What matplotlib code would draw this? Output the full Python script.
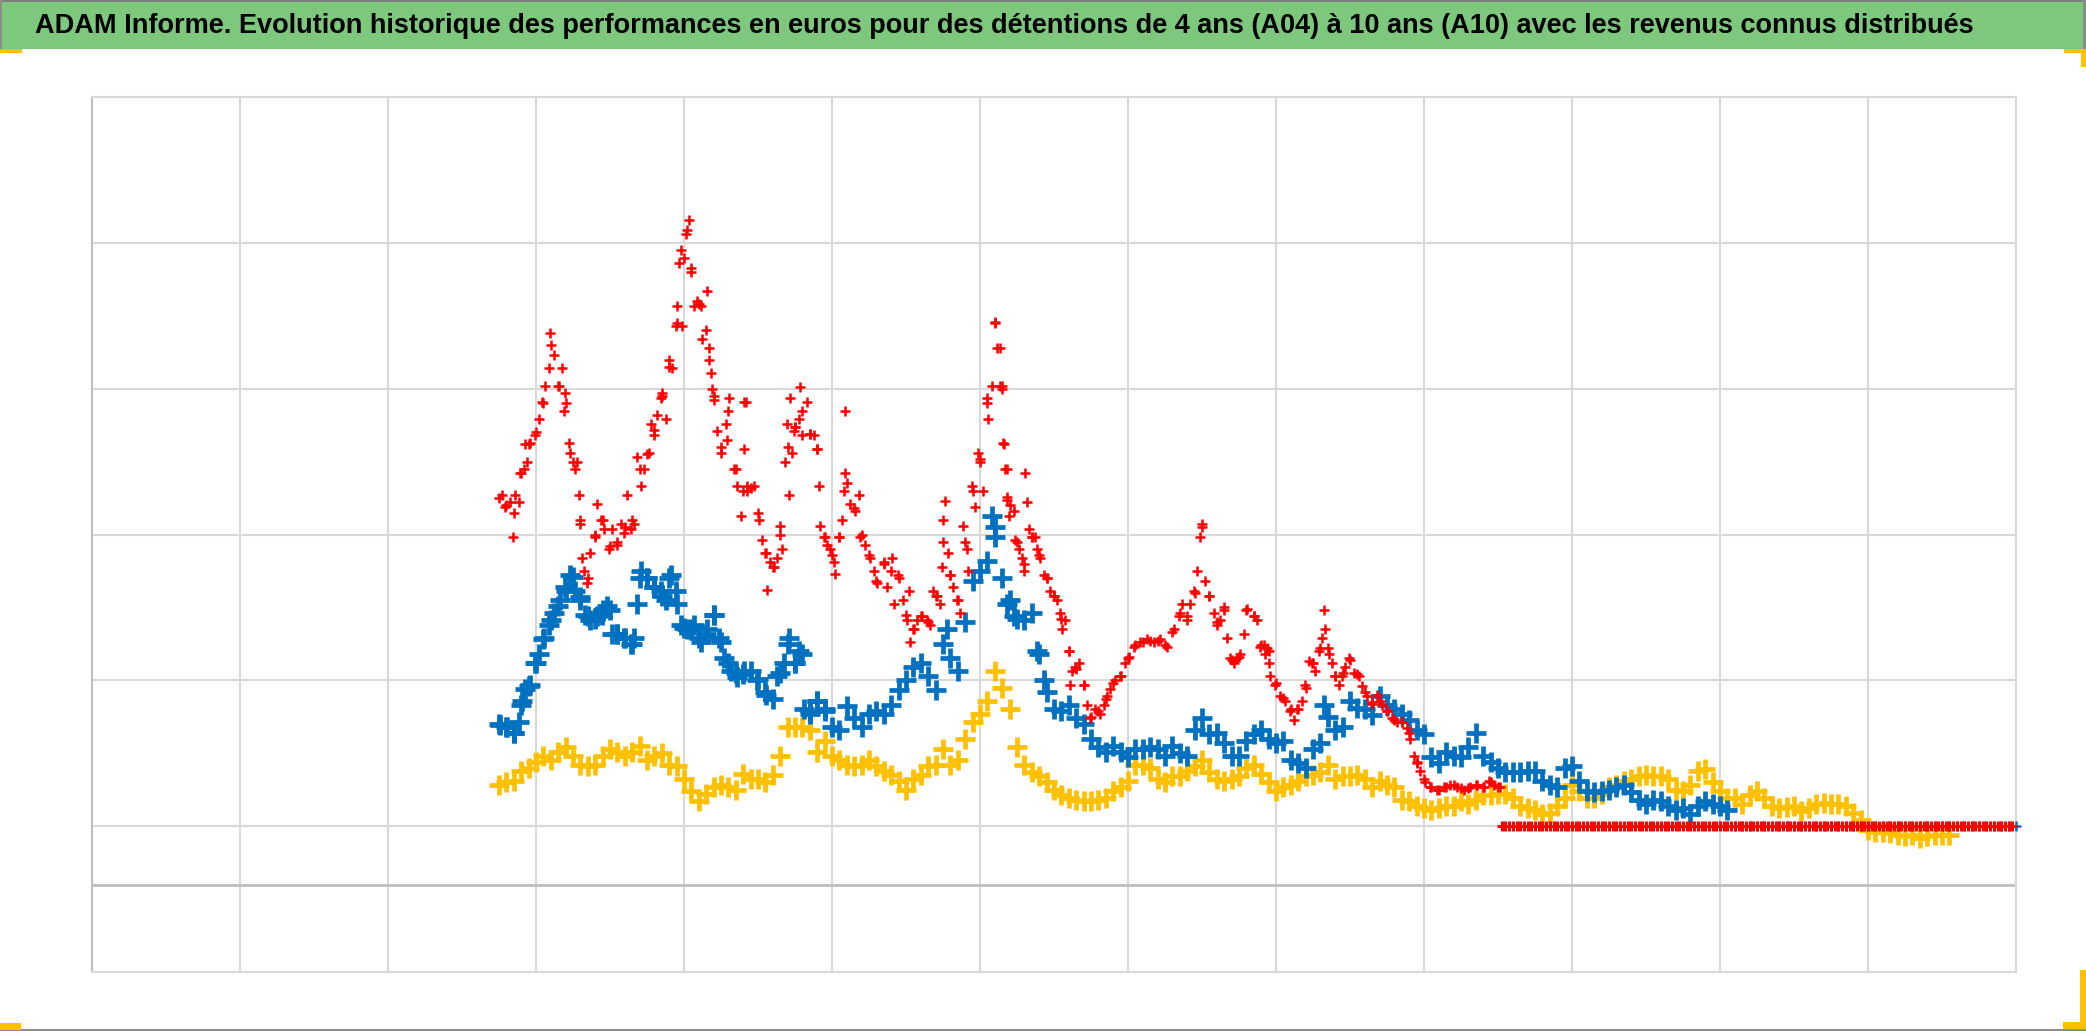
import numpy as np
import matplotlib
matplotlib.use("Agg")
import matplotlib.pyplot as plt
from matplotlib import font_manager
from matplotlib.patches import Rectangle

title = ("ADAM Informe. Evolution historique des performances en euros pour des "
         "détentions de 4 ans (A04) à 10 ans (A10) avec les revenus connus distribués")

# time axis in years from the left of the grid, one reading every 0.05
start = 2.75
step = 0.05

blue_values = [
    1.70, 1.68, 1.64, 1.83, 1.96,
    2.12, 2.28, 2.41, 2.51, 2.61, 2.71, 2.57, 2.44, 2.42, 2.48,
    2.48, 2.32, 2.29, 2.25, 2.70, 2.70, 2.64, 2.58, 2.70, 2.52,
    2.36, 2.35, 2.29, 2.32, 2.45, 2.26, 2.12, 2.05, 2.04, 2.06,
    2.01, 1.92, 1.87, 2.05, 2.25, 2.12, 2.18, 1.79, 1.86, 1.80,
    1.68, 1.66, 1.82, 1.74, 1.68, 1.77, 1.79, 1.77, 1.83, 1.93,
    2.00, 2.09, 2.12, 2.03, 1.93, 2.25, 2.15, 2.06, 2.40, 2.68,
    2.75, 2.82, 3.05, 2.70, 2.55, 2.42, 2.41, 2.46, 2.18, 1.92,
    1.80, 1.79, 1.83, 1.74, 1.70, 1.60, 1.54, 1.51, 1.55, 1.51,
    1.47, 1.53, 1.53, 1.54, 1.53, 1.48, 1.55, 1.50, 1.48, 1.66,
    1.74, 1.63, 1.64, 1.57, 1.48, 1.48, 1.58, 1.63, 1.66, 1.60,
    1.57, 1.58, 1.45, 1.43, 1.40, 1.53, 1.57, 1.75, 1.66, 1.68,
    1.86, 1.81, 1.80, 1.76, 1.89, 1.83, 1.80, 1.77, 1.73, 1.66,
    1.63, 1.47, 1.43, 1.51, 1.48, 1.47, 1.54, 1.64, 1.48, 1.44,
    1.40, 1.37, 1.37, 1.37, 1.38, 1.38, 1.31, 1.28, 1.27, 1.40,
    1.41, 1.31, 1.24, 1.23, 1.24, 1.25, 1.27, 1.28, 1.23, 1.18,
    1.15, 1.18, 1.17, 1.14, 1.11, 1.12, 1.08, 1.14, 1.17, 1.15,
    1.14, 1.11,
]

# extra blue readings between the grid dates
blue_extra_x = [
    2.758, 2.804, 2.849, 2.883, 2.905, 2.928, 2.962, 2.995, 3.018, 3.052,
    3.086, 3.120, 3.165, 3.199, 3.233, 3.266, 3.300, 3.334, 3.368, 3.413,
    3.447, 3.481, 3.515, 3.549, 3.594, 3.639, 3.661, 3.684, 3.707, 3.752,
    3.797, 3.842, 3.876, 3.910, 3.944, 3.977, 4.023, 4.068, 4.113, 4.158,
    4.203, 4.237, 4.271, 4.316, 4.361, 4.406, 4.494, 4.551, 4.629, 4.674,
    4.708, 4.753, 4.775, 4.809, 4.854, 4.899, 4.951, 5.775, 6.080, 6.101,
    6.180, 6.227, 6.385, 6.430, 8.322,
]
blue_extra_y = [
    1.69, 1.68, 1.64, 1.71, 1.86, 1.94, 1.97, 2.12, 2.18, 2.29,
    2.38, 2.46, 2.55, 2.64, 2.72, 2.61, 2.55, 2.45, 2.41, 2.44,
    2.45, 2.51, 2.32, 2.32, 2.29, 2.25, 2.29, 2.52, 2.75, 2.70,
    2.64, 2.61, 2.55, 2.72, 2.61, 2.38, 2.35, 2.38, 2.26, 2.35,
    2.45, 2.29, 2.15, 2.06, 2.02, 2.06, 2.00, 1.90, 2.03, 2.12,
    2.29, 2.12, 2.20, 1.80, 1.77, 1.86, 1.79, 2.35, 3.13, 2.98,
    2.52, 2.44, 2.20, 2.00, 1.83,
]

yellow_values = [
    1.28, 1.30, 1.31, 1.38, 1.40,
    1.44, 1.48, 1.45, 1.51, 1.54, 1.48, 1.42, 1.41, 1.42, 1.48,
    1.53, 1.51, 1.48, 1.51, 1.55, 1.45, 1.48, 1.50, 1.42, 1.41,
    1.32, 1.24, 1.17, 1.22, 1.27, 1.28, 1.27, 1.25, 1.36, 1.32,
    1.32, 1.30, 1.35, 1.48, 1.68, 1.68, 1.68, 1.66, 1.51, 1.58,
    1.48, 1.45, 1.42, 1.41, 1.42, 1.45, 1.41, 1.38, 1.35, 1.31,
    1.25, 1.32, 1.35, 1.41, 1.42, 1.53, 1.42, 1.45, 1.60, 1.71,
    1.77, 1.86, 2.06, 1.95, 1.80, 1.54, 1.42, 1.37, 1.34, 1.30,
    1.25, 1.21, 1.19, 1.18, 1.17, 1.17, 1.18, 1.19, 1.24, 1.27,
    1.31, 1.42, 1.42, 1.40, 1.32, 1.30, 1.34, 1.34, 1.38, 1.41,
    1.45, 1.37, 1.32, 1.31, 1.32, 1.34, 1.40, 1.42, 1.36, 1.30,
    1.24, 1.27, 1.28, 1.31, 1.34, 1.35, 1.37, 1.42, 1.32, 1.34,
    1.34, 1.35, 1.32, 1.27, 1.31, 1.28, 1.27, 1.18, 1.17, 1.14,
    1.12, 1.11, 1.12, 1.14, 1.14, 1.17, 1.15, 1.18, 1.21, 1.21,
    1.22, 1.22, 1.19, 1.14, 1.12, 1.11, 1.08, 1.09, 1.14, 1.19,
    1.28, 1.24, 1.19, 1.19, 1.22, 1.27, 1.28, 1.31, 1.32, 1.34,
    1.35, 1.34, 1.34, 1.32, 1.25, 1.24, 1.28, 1.38, 1.39, 1.30,
    1.24, 1.19, 1.19, 1.15, 1.21, 1.24, 1.19, 1.14, 1.12, 1.13,
    1.14, 1.10, 1.12, 1.15, 1.16, 1.15, 1.15, 1.14, 1.09, 1.04,
    0.97, 0.96, 0.96, 0.95, 0.94, 0.93, 0.94, 0.92, 0.93, 0.94,
    0.94, 0.94,
]

red_values = [
    3.25, 3.20, 3.15, 3.42, 3.62,
    3.70, 3.90, 4.30, 4.02, 3.90, 3.50, 3.10, 2.70, 3.00, 3.10,
    2.92, 2.95, 3.05, 3.10, 3.45, 3.55, 3.72, 3.95, 4.15, 4.45,
    4.90, 4.80, 4.58, 4.40, 3.95, 3.60, 3.85, 3.45, 3.30, 3.32,
    3.15, 2.87, 2.78, 3.00, 3.60, 3.74, 3.85, 3.69, 3.59, 2.98,
    2.86, 2.98, 3.35, 3.18, 3.00, 2.86, 2.68, 2.80, 2.75, 2.70,
    2.45, 2.35, 2.44, 2.40, 2.58, 2.95, 2.72, 2.55, 2.95, 3.30,
    3.52, 3.90, 4.45, 4.00, 3.20, 2.95, 2.80, 2.98, 2.86, 2.70,
    2.58, 2.42, 2.20, 2.08, 1.97, 1.75, 1.79, 1.87, 1.98, 2.03,
    2.15, 2.24, 2.26, 2.27, 2.27, 2.24, 2.33, 2.46, 2.44, 2.60,
    3.05, 2.58, 2.40, 2.48, 2.14, 2.16, 2.48, 2.44, 2.24, 2.20,
    1.98, 1.88, 1.80, 1.80, 1.95, 2.12, 2.22, 2.22, 2.03, 2.05,
    2.14, 2.04, 1.92, 1.85, 1.86, 1.79, 1.73, 1.71, 1.64, 1.44,
    1.32, 1.27, 1.25, 1.27, 1.28, 1.26, 1.26, 1.28, 1.27, 1.30,
    1.27,
]

# extra red readings between the grid dates (the red series is scattered)
red_extra_x = [
    2.770, 2.792, 2.826, 2.842, 2.860, 2.883, 2.894, 2.916, 2.939, 2.928,
    2.962, 2.995, 3.018, 3.041, 3.063, 3.086, 3.097, 3.120, 3.153, 3.176,
    3.187, 3.199, 3.221, 3.233, 3.266, 3.278, 3.289, 3.300, 3.312, 3.323,
    3.345, 3.368, 3.402, 3.413, 3.436, 3.458, 3.492, 3.515, 3.549, 3.571,
    3.594, 3.616, 3.639, 3.661, 3.684, 3.707, 3.729, 3.763, 3.774, 3.797,
    3.819, 3.842, 3.853, 3.876, 3.898, 3.921, 3.944, 3.955, 3.966, 3.977,
    3.989, 4.011, 4.023, 4.034, 4.045, 4.068, 4.090, 4.113, 4.124, 4.153,
    4.169, 4.169, 4.181, 4.192, 4.203, 4.226, 4.248, 4.282, 4.305, 4.293,
    4.339, 4.361, 4.384, 4.418, 4.429,
    4.404, 4.404, 4.427, 4.472, 4.506, 4.528, 4.551, 4.562, 4.584, 4.607,
    4.629, 4.652, 4.663, 4.685, 4.697, 4.708, 4.719, 4.730, 4.742, 4.753,
    4.775, 4.787, 4.798, 4.831, 4.854, 4.876, 4.899, 4.910, 4.921, 4.944,
    4.966, 4.989, 5.011, 5.022, 5.045, 5.067, 5.079, 5.090, 5.085, 5.124,
    5.157, 5.180, 5.191, 5.225, 5.258, 5.281, 5.303, 5.348, 5.371, 5.404,
    5.416, 5.449, 5.483, 5.517, 5.506, 5.528, 5.551, 5.573, 5.607, 5.640,
    5.663, 5.685, 5.708, 5.730, 5.742, 5.753, 5.764, 5.787, 5.798, 5.820,
    5.843, 5.865, 5.888, 5.910, 5.921, 5.944, 5.966, 5.989, 6.000, 6.022,
    6.045, 6.056, 6.079, 6.101, 6.112, 6.135, 6.157, 6.180, 6.180,
    6.137, 6.149, 6.160, 6.171, 6.182, 6.194, 6.227, 6.239, 6.261, 6.284,
    6.295, 6.306, 6.318, 6.329, 6.351, 6.374, 6.385, 6.408, 6.430, 6.453,
    6.475, 6.498, 6.520, 6.543, 6.554, 6.577, 6.599, 6.610, 6.622, 6.644,
    6.667, 6.700, 6.723, 6.745, 6.779, 6.813, 6.836, 6.858, 6.881, 6.914,
    6.948, 6.982, 7.005, 7.038, 7.083, 7.128, 7.173, 7.218, 7.264, 7.309,
    7.342, 7.365, 7.399, 7.421, 7.444, 7.466, 7.489, 7.500, 7.523, 7.545,
    7.579, 7.601, 7.624, 7.646, 7.669, 7.691, 7.714, 7.736, 7.759, 7.782,
    7.804, 7.849, 7.872, 7.894, 7.928, 7.950,
    7.917, 7.939, 7.962, 7.995, 8.029, 8.063, 8.097, 8.119, 8.142, 8.176,
    8.198, 8.221, 8.243, 8.266, 8.288, 8.311, 8.322, 8.333, 8.356, 8.378,
    8.401, 8.423, 8.446, 8.468, 8.491, 8.525, 8.559, 8.581, 8.615, 8.649,
    8.682, 8.716, 8.750, 8.784, 8.818, 8.851, 8.885, 8.908, 8.930, 8.953,
    8.975, 9.009, 9.043, 9.088, 9.133, 9.178, 9.223, 9.268, 9.313, 9.358,
    9.403, 9.437, 9.471, 9.516,
]
red_extra_y = [
    3.27, 3.19, 3.22, 2.98, 3.27, 3.22, 3.42, 3.45, 3.50, 3.62,
    3.63, 3.68, 3.79, 3.91, 4.02, 4.14, 4.38, 4.23, 4.02, 4.14,
    3.85, 3.97, 3.63, 3.56, 3.45, 3.50, 3.27, 3.07, 2.84, 2.75,
    2.67, 2.87, 2.98, 3.21, 3.10, 3.04, 2.90, 3.04, 2.93, 3.07,
    3.01, 3.27, 3.04, 3.07, 3.53, 3.33, 3.45, 3.56, 3.76, 3.68,
    3.82, 3.94, 3.97, 3.79, 4.20, 4.14, 4.43, 4.57, 4.86, 4.95,
    4.43, 5.06, 5.09, 5.16, 4.83, 4.57, 4.60, 4.57, 4.34, 4.67,
    4.28, 4.20, 4.11, 4.00, 3.92, 3.71, 3.56, 3.76, 3.94, 3.65,
    3.45, 3.33, 3.13, 3.91, 3.33,
    3.91, 3.59, 3.30, 3.33, 3.10, 2.96, 2.87, 2.62, 2.81, 2.78,
    2.84, 3.06, 2.90, 3.50, 3.76, 3.27, 3.94, 3.56, 3.71, 3.74,
    3.79, 4.01, 3.68, 3.91, 3.69, 3.68, 3.59, 3.33, 3.06, 2.98,
    2.93, 2.90, 2.81, 2.73, 2.98, 3.10, 3.30, 3.42, 3.85, 3.21,
    3.16, 3.27, 2.98, 2.93, 2.84, 2.75, 2.67, 2.81, 2.64, 2.84,
    2.52, 2.72, 2.55, 2.61, 2.41, 2.26, 2.35, 2.41, 2.44, 2.41,
    2.38, 2.61, 2.58, 2.52, 2.78, 3.10, 3.23, 2.87, 2.72, 2.64,
    2.55, 2.46, 3.06, 2.90, 2.75, 3.33, 3.19, 3.56, 3.50, 3.30,
    3.94, 3.79, 4.02, 4.46, 4.28, 4.02, 3.63, 3.45, 3.24,
    4.28, 4.02, 3.62, 3.45, 3.26, 3.13, 3.16, 2.96, 2.90, 2.84,
    2.75, 3.42, 3.22, 3.04, 2.98, 2.98, 2.90, 2.84, 2.72, 2.70,
    2.61, 2.58, 2.55, 2.46, 2.35, 2.41, 2.20, 1.97, 2.06, 2.09,
    2.12, 1.97, 1.83, 1.74, 1.80, 1.77, 1.83, 1.89, 1.94, 2.00,
    2.03, 2.12, 2.16, 2.23, 2.26, 2.28, 2.26, 2.28, 2.23, 2.35,
    2.44, 2.52, 2.41, 2.52, 2.61, 2.75, 2.98, 3.07, 2.68, 2.58,
    2.46, 2.38, 2.41, 2.50, 2.29, 2.15, 2.12, 2.15, 2.18, 2.32,
    2.49, 2.44, 2.41, 2.23, 2.18, 2.12,
    2.24, 2.22, 2.03, 1.97, 1.89, 1.86, 1.79, 1.73, 1.80, 1.86,
    1.97, 2.13, 2.12, 2.06, 2.20, 2.29, 2.48, 2.35, 2.18, 2.12,
    2.03, 1.97, 2.03, 2.09, 2.15, 2.05, 2.03, 1.96, 1.89, 1.84,
    1.90, 1.83, 1.79, 1.74, 1.71, 1.71, 1.67, 1.60, 1.48, 1.43,
    1.38, 1.30, 1.27, 1.25, 1.27, 1.28, 1.27, 1.25, 1.27, 1.28,
    1.27, 1.31, 1.28, 1.27,
]

# level shown once the holding period can not be completed any more
flat_level = 1.0
red_flat_start, red_flat_end = 9.525, 12.975
blue_flat_start, blue_flat_end = 11.10, 13.0

x_max = 13
y_max = 6
axis_cross = 0.595

red = "#ff0000"
blue = "#0070c0"
yellow = "#ffc000"
grid_col = "#d9d9d9"


def pick_font(names):
    for n in names:
        try:
            font_manager.findfont(n, fallback_to_default=False)
            return n
        except ValueError:
            pass
    return "DejaVu Sans"


W, H = 2086, 1031
fig = plt.figure(figsize=(W / 100, H / 100), dpi=100)


def px_rect(x, y, w, h, color):
    # rectangle given in pixels from the top left corner
    fig.patches.append(Rectangle((x / W, 1 - (y + h) / H), w / W, h / H,
                                 transform=fig.transFigure, facecolor=color,
                                 edgecolor="none"))


# green title bar
px_rect(0, 0, W, 49, "#7dc87d")
px_rect(0, 0, W, 2, "#7f7f7f")
px_rect(0, 0, 2, 49, "#8c8c8c")
px_rect(W - 3, 0, 3, 49, "#8c8c8c")
px_rect(0, H - 2, W, 2, "#8c8c8c")

# little orange corner marks
px_rect(0, 49, 22, 4, yellow)
px_rect(2064, 49, 22, 4, yellow)
px_rect(2081, 49, 5, 18, yellow)
px_rect(0, 1023, 21, 7, yellow)
px_rect(2063, 1022, 23, 7, yellow)
px_rect(2080, 970, 6, 59, yellow)

font = pick_font(["Liberation Sans Narrow", "Liberation Sans", "DejaVu Sans"])
t = fig.text(35 / W, 1 - 26 / H, title, ha="left", va="center",
             fontsize=24, fontweight="bold", family=font, color="black")
fig.canvas.draw()
bb = t.get_window_extent()
t.set_fontsize(24 * 1946 / bb.width)

ax = fig.add_axes([92 / W, 1 - 971.7 / H, (2016 - 92) / W, (971.7 - 97.3) / H])
ax.set_xlim(0, x_max)
ax.set_ylim(0, y_max)
ax.set_xticks(range(0, x_max + 1))
ax.set_yticks(range(0, y_max + 1))
ax.tick_params(length=0, labelbottom=False, labelleft=False)
ax.grid(True, color=grid_col, linewidth=1.5)
ax.set_axisbelow(True)
for name, sp in ax.spines.items():
    sp.set_color(grid_col)
    sp.set_linewidth(1.5)
ax.spines["left"].set_color("#bfbfbf")
ax.axhline(axis_cross, color="#bfbfbf", linewidth=2, zorder=1)

x_blue = start + step * np.arange(len(blue_values))
x_yellow = start + step * np.arange(len(yellow_values))
x_red = start + step * np.arange(len(red_values))
x_red_flat = np.arange(red_flat_start, red_flat_end + 0.001, 0.025)
x_blue_flat = np.arange(blue_flat_start, blue_flat_end + 0.001, 0.05)

band = dict(linestyle="none", marker="+", ms=14, mew=3.4, clip_on=False)
thin = dict(linestyle="none", marker="+", ms=6.5, mew=1.8, clip_on=False)

ax.plot(x_yellow, yellow_values, color=yellow, zorder=3, **band)
ax.plot(x_blue_flat, [flat_level] * len(x_blue_flat), color=blue, zorder=4, **thin)
ax.plot(x_blue, blue_values, color=blue, zorder=4, **band)
ax.plot(blue_extra_x, blue_extra_y, color=blue, zorder=4, **band)
ax.plot(x_red, red_values, color=red, zorder=5, **thin)
ax.plot(red_extra_x, red_extra_y, color=red, zorder=5, **thin)
ax.plot(x_red_flat, [flat_level] * len(x_red_flat), linestyle="none", marker="+",
        ms=7, mew=2.2, color=red, clip_on=False, zorder=5)

fig.savefig("out.png", dpi=100)
